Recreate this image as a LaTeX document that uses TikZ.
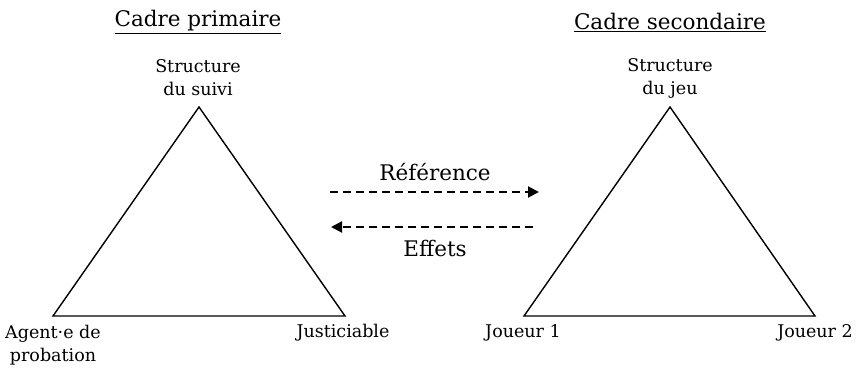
\documentclass[tikz,border=0pt]{standalone}
\usepackage{fontspec}
\setmainfont{DejaVu Serif}
\usetikzlibrary{arrows.meta}
\begin{document}
\begin{tikzpicture}[x=1pt,y=-1pt,
  lbl/.style={font=\fontsize{17.5}{23}\selectfont, align=center, inner sep=0pt},
  ttl/.style={font=\fontsize{21.5}{25}\selectfont, inner sep=0pt},
  tri/.style={line width=1.4pt, line join=miter},
  flow/.style={line width=2pt, dash pattern=on 8pt off 5pt, -{Triangle[length=11pt,width=11pt]}}]
\useasboundingbox (0,0) rectangle (860,369);
% titles
\node[ttl] (t1) at (198,22) {\underline{Cadre primaire}};
\node[ttl] (t2) at (670,22) {\underline{Cadre secondaire}};
% left triangle
\coordinate (a1) at (199,107);
\coordinate (b1) at (53,316);
\coordinate (c1) at (345,316);
\draw[tri] (a1) -- (b1) -- (c1) -- cycle;
\node[lbl] (la1) at (198,78) {Structure\\du suivi};
\node[lbl] (lb1) at (53,345) {Agent·e de\\probation};
\node[lbl] (lc1) at (343,333) {Justiciable};
% right triangle
\coordinate (a2) at (670,107);
\coordinate (b2) at (524,316);
\coordinate (c2) at (815,316);
\draw[tri] (a2) -- (b2) -- (c2) -- cycle;
\node[lbl] (la2) at (670,78) {Structure\\du jeu};
\node[lbl] (lb2) at (523,333) {Joueur 1};
\node[lbl] (lc2) at (815,333) {Joueur 2};
% arrows
\coordinate (r1) at (330,192);
\coordinate (r2) at (539,192);
\coordinate (e1) at (331,227);
\coordinate (e2) at (533,227);
\draw[flow] (r1) -- (r2);
\draw[flow] (e2) -- (e1);
\node[lbl, font=\fontsize{21.5}{25}\selectfont] (ref) at (435,172) {Référence};
\node[lbl, font=\fontsize{21.5}{25}\selectfont] (eff) at (435,248) {Effets};
\end{tikzpicture}
\end{document}
